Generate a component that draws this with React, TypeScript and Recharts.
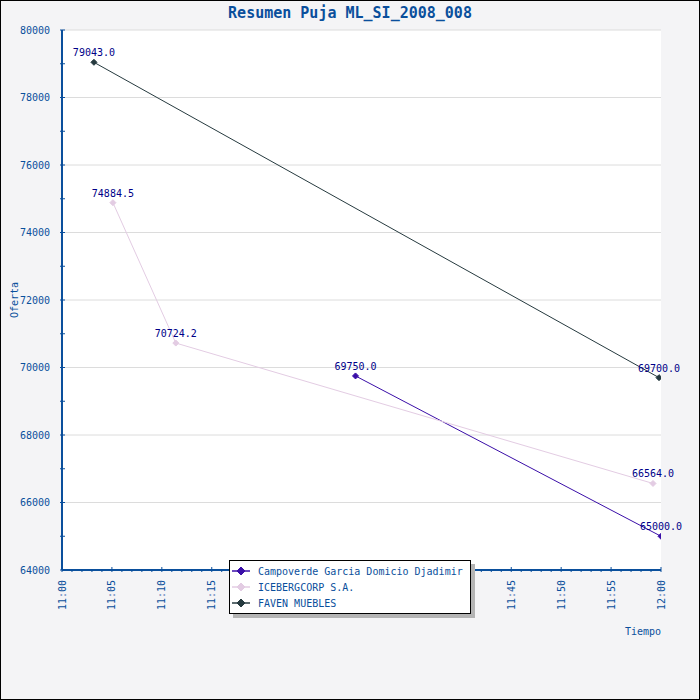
import React from 'react';
import {
  LineChart,
  Line,
  XAxis,
  YAxis,
  ReferenceArea,
  ReferenceLine,
  Legend,
  Label,
  LabelList,
} from 'recharts';

// minutos despues de las 11:00
const campoverdeTimes = [29.4, 60.0];
const campoverdeBids = [69750.0, 65000.0];
const icebergTimes = [5.1, 11.4, 59.2];
const icebergBids = [74884.5, 70724.2, 66564.0];
const favenTimes = [3.2, 59.8];
const favenBids = [79043.0, 69700.0];

const seriesNames = ['Campoverde Garcia Domicio Djadimir', 'ICEBERGCORP S.A.', 'FAVEN MUEBLES'];
const seriesColors = ['#3a0ea8', '#e3cce3', '#263a3f'];

const yMajorTicks = [64000, 66000, 68000, 70000, 72000, 74000, 76000, 78000, 80000];
const xTickLabels = ['11:00', '11:05', '11:10', '11:15', '11:20', '11:25', '11:30', '11:35', '11:40', '11:45', '11:50', '11:55', '12:00'];

const yTicks = Array.from({ length: 17 }, (_, i) => 64000 + i * 1000);
const xTicks = Array.from({ length: 61 }, (_, i) => i);

const toRows = (times: number[], bids: number[]) => times.map((t, i) => ({ t, bid: bids[i] }));
const series = [
  toRows(campoverdeTimes, campoverdeBids),
  toRows(icebergTimes, icebergBids),
  toRows(favenTimes, favenBids),
];

const FONT = '"DejaVu Sans Mono", monospace';
const BLUE = '#0a4f9c';
const VALUE = '#000088';

const diamond = (cx: number, cy: number, r: number, color: string, key?: any) => (
  <path key={key} d={`M${cx},${cy - r}L${cx + r},${cy}L${cx},${cy + r}L${cx - r},${cy}Z`} fill={color} stroke={color} />
);

const YTick = ({ x, y, payload }: any) => {
  const major = payload.value % 2000 === 0;
  return (
    <g>
      <line x1={x} x2={x + 5} y1={y} y2={y} stroke={BLUE} />
      {major && (
        <text x={x - 10} y={y} textAnchor="end" dominantBaseline="central" fontSize={10} fontFamily={FONT} fill={BLUE}>
          {payload.value}
        </text>
      )}
    </g>
  );
};

const XTick = ({ x, y, payload }: any) => {
  const major = payload.value % 5 === 0;
  return (
    <g>
      <line x1={x} x2={x} y1={y} y2={y - (major ? 5 : 3)} stroke={BLUE} />
      {major && (
        <text
          x={x}
          y={y + 8}
          transform={`rotate(-90 ${x} ${y + 8})`}
          textAnchor="end"
          dominantBaseline="central"
          fontSize={10}
          fontFamily={FONT}
          fill={BLUE}
        >
          {xTickLabels[payload.value / 5]}
        </text>
      )}
    </g>
  );
};

const LegendBox = () => (
  <div
    style={{
      width: 240,
      height: 50,
      background: '#fff',
      border: '1px solid #000',
      boxShadow: '4px 4px 0 #b4b4b4',
      fontFamily: FONT,
      fontSize: 10,
      color: BLUE,
      paddingTop: 2,
      boxSizing: 'content-box',
    }}
  >
    {seriesNames.map((name, i) => (
      <div key={name} style={{ display: 'flex', alignItems: 'center', height: 16 }}>
        <svg width={20} height={16} style={{ marginLeft: 1 }}>
          <line x1={1} x2={19} y1={8} y2={8} stroke={seriesColors[i]} strokeWidth={1.5} />
          {diamond(10, 8, 4, seriesColors[i])}
        </svg>
        <span style={{ marginLeft: 7 }}>{name}</span>
      </div>
    ))}
  </div>
);

export default function App() {
  return (
    <div style={{ position: 'absolute', left: 0, top: 0, width: 700, height: 700, background: '#f4f4f6' }}>
      <LineChart width={700} height={700} margin={{ top: 30, right: 39, left: 0, bottom: 0 }}>
        <ReferenceArea x1={0} x2={60} y1={64000} y2={80000} fill="#ffffff" fillOpacity={1} stroke="none" />
        {yMajorTicks.slice(1).map((v) => (
          <ReferenceLine key={v} y={v} stroke="#dcdcdc" />
        ))}
        <XAxis
          type="number"
          dataKey="t"
          domain={[0, 60]}
          ticks={xTicks}
          interval={0}
          height={130}
          tickSize={0}
          tickLine={false}
          axisLine={{ stroke: BLUE, strokeWidth: 2 }}
          tick={<XTick />}
          allowDataOverflow
        >
          <Label
            content={({ viewBox }: any) => (
              <text x={viewBox.x + viewBox.width} y={viewBox.y + 61} textAnchor="end" dominantBaseline="central" fontSize={10} fontFamily={FONT} fill={BLUE}>
                Tiempo
              </text>
            )}
          />
        </XAxis>
        <YAxis
          type="number"
          domain={[64000, 80000]}
          ticks={yTicks}
          interval={0}
          width={62}
          tickSize={0}
          tickLine={false}
          axisLine={{ stroke: BLUE, strokeWidth: 2 }}
          tick={<YTick />}
        >
          <Label
            content={({ viewBox }: any) => {
              const cx = 14;
              const cy = viewBox.y + viewBox.height / 2;
              return (
                <text x={cx} y={cy} transform={`rotate(-90 ${cx} ${cy})`} textAnchor="middle" dominantBaseline="central" fontSize={10} fontFamily={FONT} fill={BLUE}>
                  Oferta
                </text>
              );
            }}
          />
        </YAxis>
        {series.map((rows, i) => (
          <Line
            key={seriesNames[i]}
            name={seriesNames[i]}
            data={rows}
            dataKey="bid"
            stroke={seriesColors[i]}
            strokeWidth={1}
            isAnimationActive={false}
            dot={(p: any) => diamond(p.cx, p.cy, 3, seriesColors[i], p.index)}
            activeDot={false}
          >
            <LabelList
              dataKey="bid"
              position="top"
              offset={6}
              formatter={(v: any) => Number(v).toFixed(1)}
              fontSize={10}
              fontFamily={FONT}
              fill={VALUE}
            />
          </Line>
        ))}
        <Legend
          layout="horizontal"
          verticalAlign="middle"
          align="center"
          content={<LegendBox />}
          wrapperStyle={{ left: 229, top: 560, width: 246, height: 58 }}
        />
        <text x={350} y={13} textAnchor="middle" dominantBaseline="central" fontSize={15} fontWeight="bold" fontFamily={FONT} fill={BLUE}>
          Resumen Puja ML_SI_2008_008
        </text>
      </LineChart>
      <div style={{ position: 'absolute', inset: 0, border: '1px solid #000', pointerEvents: 'none' }} />
    </div>
  );
}
